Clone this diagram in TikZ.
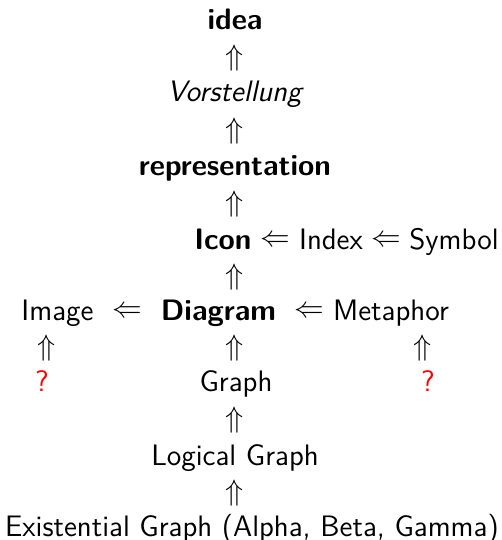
\RequirePackage{fix-cm}
\documentclass[tikz,border=0pt]{standalone}
\begin{document}
\begin{tikzpicture}[x=0.5pt,y=-0.5pt,
  every node/.style={font=\fontsize{14.8}{17}\selectfont\sffamily, inner sep=0pt},
  lbl/.style={text height=10.2pt, text depth=2.3pt, anchor=base},
  qmark/.style={lbl, text=red},
  arr/.style={inner sep=0pt}]
\useasboundingbox (0,0) rectangle (502,540);
\coordinate (colM) at (235,0);
\coordinate (colL) at (47,0);
\coordinate (colR) at (423,0);
% texts
\node[lbl] (idea) at (235,30) {\textbf{idea}};
\node[lbl] (vor) at (235.5,102) {\textit{Vorstellung}};
\node[lbl] (rep) at (235,175) {\textbf{representation}};
\node[lbl] (icon) at (223,249) {\textbf{Icon}};
\node[lbl] (index) at (331,249) {Index};
\node[lbl] (symbol) at (454,249) {Symbol};
\node[lbl] (image) at (57.5,320) {Image};
\node[lbl] (diagram) at (218.5,320) {\textbf{Diagram}};
\node[lbl] (meta) at (391,320) {Metaphor};
\node[qmark] (q1) at (42,391) {?};
\node[lbl] (graph) at (236,391) {Graph};
\node[qmark] (q2) at (428,391) {?};
\node[lbl] (logical) at (235,465) {Logical Graph};
\node[lbl] (exist) at (252,536) {Existential Graph (Alpha, Beta, Gamma)};
% vertical connectors
\path (vor.north -| colM) -- node[arr]{$\Uparrow$} (idea.south -| colM);
\path (rep.north -| colM) -- node[arr]{$\Uparrow$} (vor.south -| colM);
\path (icon.north -| colM) -- node[arr]{$\Uparrow$} (rep.south -| colM);
\path (diagram.north -| colM) -- node[arr]{$\Uparrow$} (icon.south -| colM);
\path (graph.north -| colM) -- node[arr]{$\Uparrow$} (diagram.south -| colM);
\path (logical.north -| colM) -- node[arr]{$\Uparrow$} (graph.south -| colM);
\path (exist.north -| colM) -- node[arr]{$\Uparrow$} (logical.south -| colM);
\path (q1.north -| colL) -- node[arr]{$\Uparrow$} (image.south -| colL);
\path (q2.north -| colR) -- node[arr]{$\Uparrow$} (meta.south -| colR);
% horizontal connectors
\path (index) -- node[arr]{$\Leftarrow$} (icon);
\path (symbol) -- node[arr]{$\Leftarrow$} (index);
\path (diagram) -- node[arr]{$\Leftarrow$} (image);
\path (meta) -- node[arr, xshift=2.5pt]{$\Leftarrow$} (diagram);
\end{tikzpicture}
\end{document}
